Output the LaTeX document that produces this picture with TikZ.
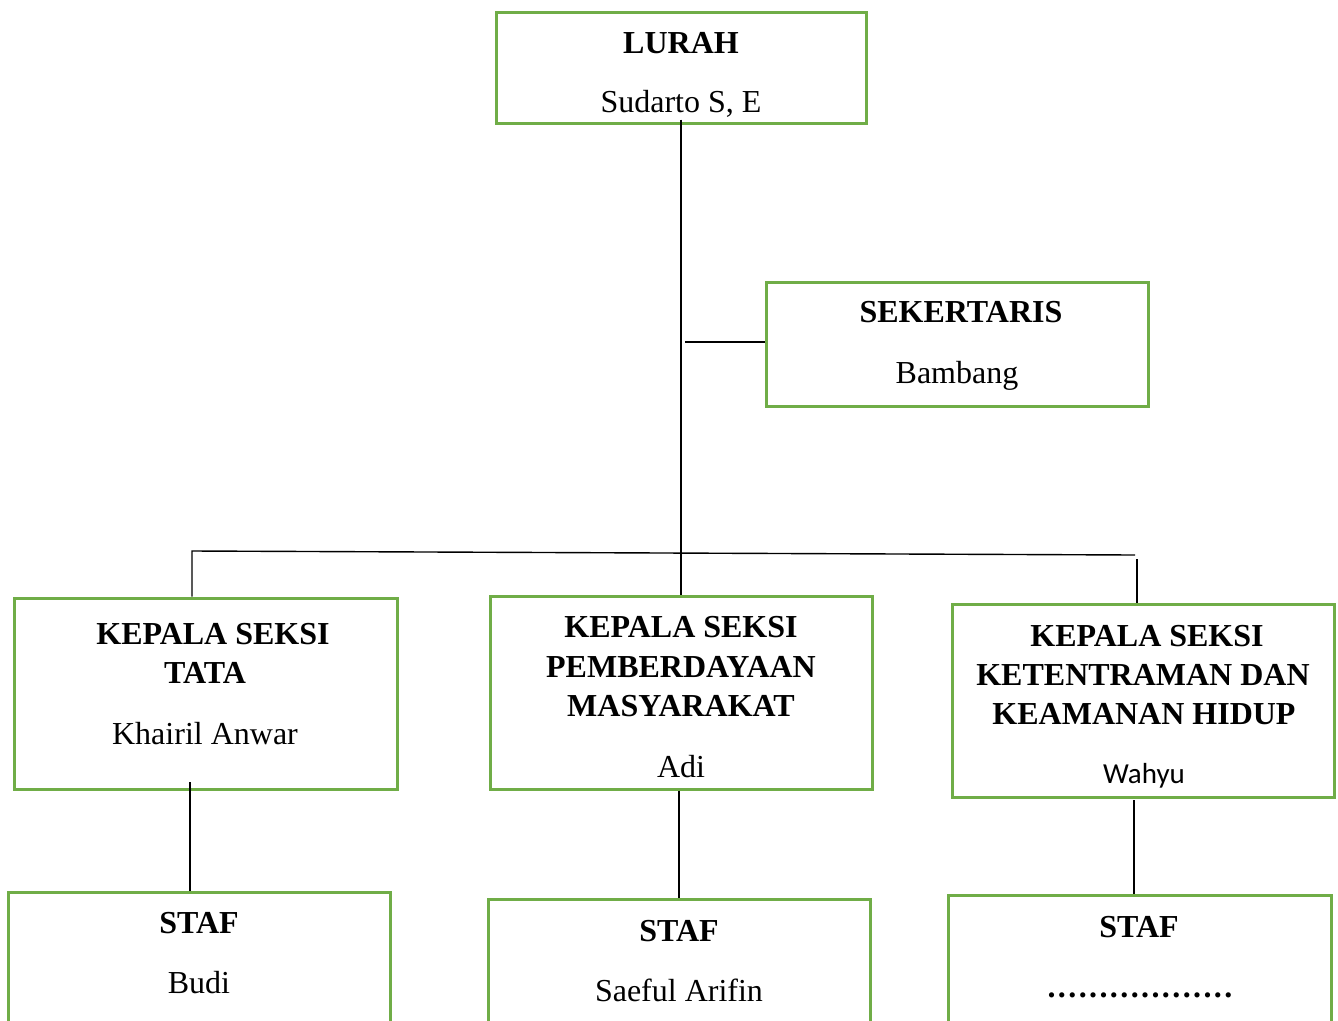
\documentclass[tikz,border=0pt]{standalone}
\usepackage{fontspec}
\setmainfont{Liberation Serif}
\newfontfamily\calfont{Carlito}
\definecolor{boxgreen}{RGB}{112,173,71}
\begin{document}
\begin{tikzpicture}[x=1pt,y=-1pt,
  orgbox/.style={draw=boxgreen,line width=3pt,rectangle,inner sep=0pt,fill=none},
  conn/.style={draw=black,line width=1.4pt},
  ttl/.style={anchor=base,inner sep=0pt,font=\fontsize{32}{40}\selectfont\bfseries},
  nm/.style={anchor=base,inner sep=0pt,font=\fontsize{32}{40}\selectfont},
  nmc/.style={anchor=base,inner sep=0pt,font=\fontsize{29}{36}\selectfont\calfont}]
\clip (0,0) rectangle (1338,1020);
\fill[white] (0,0) rectangle (1338,1020);
% boxes
\node[orgbox,minimum width=370pt,minimum height=111pt] (lurah) at (681,67.5) {};
\node[orgbox,minimum width=382pt,minimum height=124pt] (sek) at (957,344) {};
\node[orgbox,minimum width=383pt,minimum height=191pt] (k1) at (205.5,693.5) {};
\node[orgbox,minimum width=382pt,minimum height=193pt] (k2) at (681,692.5) {};
\node[orgbox,minimum width=382pt,minimum height=193pt] (k3) at (1143,700.5) {};
\node[orgbox,minimum width=382pt,minimum height=168pt] (s1) at (199,976) {};
\node[orgbox,minimum width=382pt,minimum height=161pt] (s2) at (679,979.5) {};
\node[orgbox,minimum width=383pt,minimum height=165pt] (s3) at (1139.5,977.5) {};
% texts
\node[ttl] (tlurah) at (681,53) {LURAH};
\node[nm] (nlurah) at (681,112) {Sudarto S, E};
\node[ttl] (tsek) at (961,322) {SEKERTARIS};
\node[nm] (nsek) at (957,383) {Bambang};
\node[ttl] (tk1a) at (213,644) {KEPALA SEKSI};
\node[ttl] (tk1b) at (205,683) {TATA};
\node[nm] (nk1) at (205,744) {Khairil Anwar};
\node[ttl] (tk2a) at (681,637) {KEPALA SEKSI};
\node[ttl] (tk2b) at (681,677) {PEMBERDAYAAN};
\node[ttl] (tk2c) at (681,716) {MASYARAKAT};
\node[nm] (nk2) at (681,777) {Adi};
\node[ttl] (tk3a) at (1147,646) {KEPALA SEKSI};
\node[ttl] (tk3b) at (1143,685) {KETENTRAMAN DAN};
\node[ttl] (tk3c) at (1144,724) {KEAMANAN HIDUP};
\node[nmc] (nk3) at (1144,783) {Wahyu};
\node[ttl] (ts1) at (199,933) {STAF};
\node[nm] (ns1) at (199,993) {Budi};
\node[ttl] (ts2) at (679,941) {STAF};
\node[ttl] (ts3) at (1139,937) {STAF};
\node[nm] (ns2) at (679,1001) {Saeful Arifin};
\node[ttl] (ns3) at (1140,997) {\hbox to 187.2pt{\xleaders\hbox to 10.4pt{\hss.\hss}\hfill}};
% coordinates
\coordinate (busL) at (192,551);
\coordinate (busR) at (1135,555);
\coordinate (r3top) at (1137,559);
\coordinate (sekL) at (685,342);
\coordinate (c1a) at (190,782);
\coordinate (c3a) at (1134,800);
% connectors
\draw[conn] ([yshift=5pt]lurah.south) -- (k2.north);
\draw[conn] (sekL) -- (sekL -| sek.west);
\draw[conn] (busL |- k1.north) -- (busL) -- (busR);
\draw[conn] (r3top) -- (r3top |- k3.north);
\draw[conn] (c1a) -- (c1a |- s1.north);
\draw[conn] (k2.south -| s2.north) -- (s2.north);
\draw[conn] (c3a) -- (c3a |- s3.north);
\end{tikzpicture}
\end{document}
